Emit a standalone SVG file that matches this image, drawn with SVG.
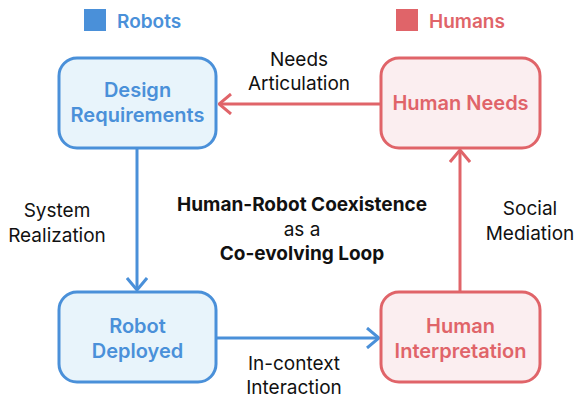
<svg xmlns="http://www.w3.org/2000/svg" width="576" height="401" viewBox="0 0 576 401">
<defs>
<style>
text{font-family:Inter,"Noto Sans","Liberation Sans",sans-serif;}
.lbl{font-size:19px;fill:#111;text-anchor:middle;}
.nb{font-size:20px;font-weight:600;fill:#4A90D9;text-anchor:middle;}
.nr{font-size:20px;font-weight:600;fill:#E06469;text-anchor:middle;}
.bbox{fill:#E8F4FB;stroke:#4A90D9;stroke-width:3;}
.rbox{fill:#FBEEF0;stroke:#E06469;stroke-width:3;}
.eb{stroke:#4A90D9;stroke-width:3;fill:none;}
.er{stroke:#E06469;stroke-width:3;fill:none;}
.title{font-size:19px;font-weight:700;fill:#111;text-anchor:middle;}
</style>
<marker id="ab" viewBox="0 0 14 22" refX="13" refY="11" markerWidth="14" markerHeight="22" markerUnits="userSpaceOnUse" orient="auto">
<path d="M1,1 L13,11 L1,21" fill="none" stroke="#4A90D9" stroke-width="3"/>
</marker>
<marker id="ar" viewBox="0 0 14 22" refX="13" refY="11" markerWidth="14" markerHeight="22" markerUnits="userSpaceOnUse" orient="auto">
<path d="M1,1 L13,11 L1,21" fill="none" stroke="#E06469" stroke-width="3"/>
</marker>
</defs>
<rect width="576" height="401" fill="#fff"/>
<g id="legend">
<rect x="84" y="9" width="22" height="22" fill="#4A90D9"/>
<text x="117" y="28" font-size="19" font-weight="600" fill="#4A90D9">Robots</text>
<rect x="396" y="9" width="22" height="22" fill="#E06469"/>
<text x="429" y="28" font-size="19" font-weight="600" fill="#E06469">Humans</text>
</g>
<g id="connectors">
<line class="er" x1="381" y1="104" x2="219" y2="104" marker-end="url(#ar)"/>
<line class="eb" x1="137" y1="148" x2="137" y2="290" marker-end="url(#ab)"/>
<line class="eb" x1="217" y1="338" x2="379" y2="338" marker-end="url(#ab)"/>
<line class="er" x1="460" y1="292" x2="460" y2="150" marker-end="url(#ar)"/>
<text class="lbl" x="299" y="66">Needs</text>
<text class="lbl" x="299" y="90">Articulation</text>
<text class="lbl" x="57" y="217">System</text>
<text class="lbl" x="57" y="242">Realization</text>
<text class="lbl" x="530" y="215">Social</text>
<text class="lbl" x="530" y="240">Mediation</text>
<text class="lbl" x="294" y="370">In-context</text>
<text class="lbl" x="294" y="394">Interaction</text>
</g>
<g id="design">
<rect class="bbox" x="59" y="58" width="157" height="90" rx="18"/>
<text class="nb" x="137.5" y="97">Design</text>
<text class="nb" x="137.5" y="122">Requirements</text>
</g>
<g id="needs">
<rect class="rbox" x="381" y="58" width="159" height="90" rx="18"/>
<text class="nr" x="460.5" y="110">Human Needs</text>
</g>
<g id="deployed">
<rect class="bbox" x="59" y="292" width="157" height="90" rx="18"/>
<text class="nb" x="137.5" y="333">Robot</text>
<text class="nb" x="137.5" y="358">Deployed</text>
</g>
<g id="interpretation">
<rect class="rbox" x="381" y="292" width="159" height="90" rx="18"/>
<text class="nr" x="460.5" y="333">Human</text>
<text class="nr" x="460.5" y="358">Interpretation</text>
</g>
<g id="title">
<text class="title" x="302" y="211">Human-Robot Coexistence</text>
<text x="302" y="236" font-size="19" fill="#111" text-anchor="middle">as a</text>
<text class="title" x="302" y="260">Co-evolving Loop</text>
</g>
</svg>
